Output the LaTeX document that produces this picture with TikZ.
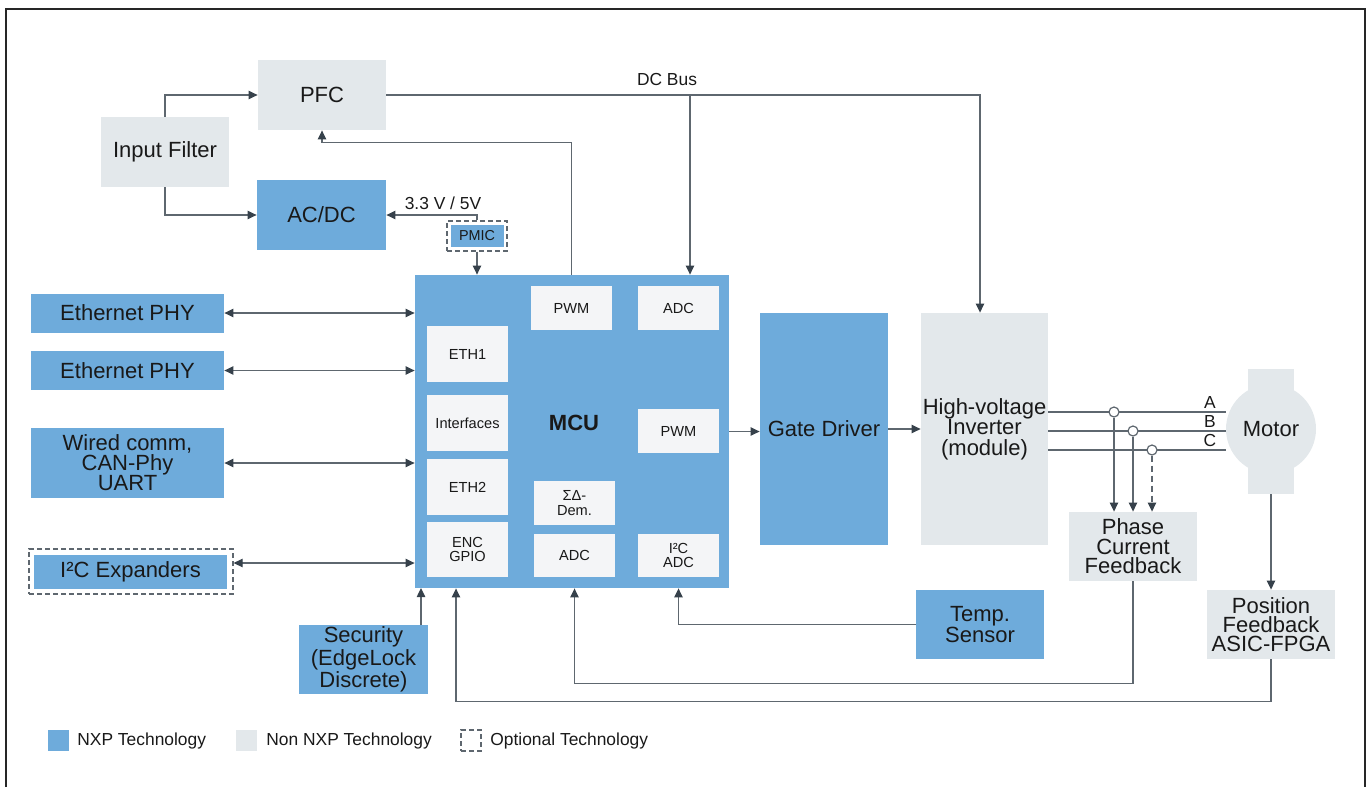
\documentclass[tikz,border=0pt]{standalone}
\usepackage{fontspec}
\setmainfont{Liberation Sans}
\usetikzlibrary{arrows.meta}
\definecolor{nxpblue}{HTML}{6EABDB}
\definecolor{nonnxp}{HTML}{E3E8EB}
\definecolor{subblk}{HTML}{F4F5F7}
\definecolor{wirecol}{HTML}{5E676F}
\definecolor{tipcol}{HTML}{36414B}
\begin{document}
\begin{tikzpicture}[
  x=0.5pt, y=-0.5pt,
  every node/.style={inner sep=0pt, align=center, text=black!90},
  nxp/.style={fill=nxpblue, font=\fontsize{11}{9.8}\selectfont},
  other/.style={fill=nonnxp, font=\fontsize{11}{9.8}\selectfont},
  sub/.style={fill=subblk, minimum width=40.5pt, font=\fontsize{7.3}{6.8}\selectfont},
  optbox/.style={draw=wirecol, dash pattern=on 2.5pt off 1.5pt, line width=0.6pt},
  wire/.style={draw=wirecol, line width=0.6pt},
  arr/.style={wire, -{Triangle[length=4.5pt, width=4.2pt, color=tipcol]}},
  darr/.style={wire, {Triangle[length=4.5pt, width=4.2pt, color=tipcol]}-{Triangle[length=4.5pt, width=4.2pt, color=tipcol]}},
  tap/.style={circle, draw=wirecol, fill=white, line width=0.6pt, minimum size=5pt},
  small/.style={font=\fontsize{8.7}{10}\selectfont}
]
\useasboundingbox (0,0) rectangle (1369,787);
\draw[line width=1pt, draw=black!85] (6,787) -- (6,9) -- (1365,9) -- (1365,787);

% Power stage
\node[other, minimum width=64pt, minimum height=35pt] (pfc) at (322,95) {PFC};
\node[other, minimum width=64pt, minimum height=35pt] (filter) at (165,152) {Input Filter};
\node[nxp, minimum width=64.5pt, minimum height=35pt] (acdc) at (321.5,215) {AC/DC};
\node[optbox, minimum width=30pt, minimum height=15pt] (pmicbox) at (477,236) {};
\node[nxp, minimum width=26.5pt, minimum height=11pt, font=\fontsize{7.2}{8}\selectfont] (pmic) at (477,236) {PMIC};
\node[small] (supply) at (443,203.5) {3.3 V / 5V};
\node[small] (dcbus) at (667,79.5) {DC Bus};

% MCU and its blocks
\node[fill=nxpblue, minimum width=157pt, minimum height=156.5pt] (mcu) at (572,431.5) {};
\node[font=\bfseries\fontsize{11}{12}\selectfont] (mculabel) at (574,423) {MCU};
\node[sub, minimum height=22pt] (pwmtop) at (571.5,308) {PWM};
\node[sub, minimum height=22pt] (adctop) at (678.5,308) {ADC};
\node[sub, minimum height=28pt] (eth1) at (467.5,354) {ETH1};
\node[sub, minimum height=28pt] (ifaces) at (467.5,423) {Interfaces};
\node[sub, minimum height=28pt] (eth2) at (467.5,487) {ETH2};
\node[sub, minimum height=27.5pt] (enc) at (467.5,549.5) {ENC\\GPIO};
\node[sub, minimum height=22pt, font=\fontsize{7.3}{7.6}\selectfont] (sigdel) at (574.5,503) {ΣΔ-\\Dem.};
\node[sub, minimum height=21.5pt] (adcbot) at (574.5,555.5) {ADC};
\node[sub, minimum height=22pt] (pwmright) at (678.5,431) {PWM};
\node[sub, minimum height=21.5pt] (i2cadc) at (678.5,555.5) {I²C\\ADC};

% Comms on the left
\node[nxp, minimum width=96.5pt, minimum height=19.5pt] (phy1) at (127.5,313) {Ethernet PHY};
\node[nxp, minimum width=96.5pt, minimum height=19.5pt] (phy2) at (127.5,370.5) {Ethernet PHY};
\node[nxp, minimum width=96.5pt, minimum height=35pt, font=\fontsize{11}{10}\selectfont] (wired) at (127.5,463) {Wired comm,\\CAN-Phy\\UART};
\node[optbox, minimum width=102pt, minimum height=22.5pt] (i2cbox) at (131,571.5) {};
\node[nxp, minimum width=96.5pt, minimum height=17pt] (i2cexp) at (130.5,572) {I²C Expanders};
\node[nxp, minimum width=64.5pt, minimum height=34.5pt] (security) at (363.5,659.5) {Security\\(EdgeLock\\Discrete)};

% Drive side
\node[nxp, minimum width=64pt, minimum height=116pt] (gate) at (824,429) {Gate Driver};
\node[other, minimum width=63.5pt, minimum height=116pt, font=\fontsize{11}{10.2}\selectfont] (inverter) at (984.5,429) {High-voltage\\Inverter\\(module)};
\node[nxp, minimum width=64pt, minimum height=34.5pt, font=\fontsize{11}{10.5}\selectfont] (temp) at (980,624.5) {Temp.\\Sensor};
\node[other, minimum width=64pt, minimum height=34.5pt] (phasefb) at (1133,546.5) {Phase\\Current\\Feedback};
\node[other, minimum width=64pt, minimum height=34.5pt, font=\fontsize{11}{9.5}\selectfont] (posfb) at (1271,624.5) {Position\\Feedback\\ASIC-FPGA};
\node[fill=nonnxp, minimum width=23pt, minimum height=62.5pt] (motorbody) at (1271,431.5) {};
\node[circle, fill=nonnxp, minimum size=45pt, font=\fontsize{11}{12}\selectfont] (motor) at (1271,429) {Motor};

% Phase lines A B C
\foreach \y/\ph in {412/A,431/B,450/C} {
  \draw[wire] (inverter.east |- 0,\y) -- (motor.west |- 0,\y);
  \node[small] (lbl\ph) at (1210,\y-9) {\ph};
}
\node[tap] (tapA) at (1114,412) {};
\node[tap] (tapB) at (1133,431) {};
\node[tap] (tapC) at (1152,450) {};
\draw[arr] (tapA.south) -- (tapA |- phasefb.north);
\draw[arr] (tapB.south) -- (tapB |- phasefb.north);
\draw[arr, dash pattern=on 3pt off 2pt] (tapC.south) -- (tapC |- phasefb.north);

% Connectors
\draw[arr] (filter.north) |- (pfc.west);
\draw[arr] (filter.south) |- (acdc.west);
\draw[arr] (pmicbox.north) |- (acdc.east);
\draw[arr] (pmicbox.south) -- (pmicbox.south |- mcu.north);
\draw[arr] (mcu.north -| pwmtop) -- ++(0,-132) -| (pfc.south);
\draw[arr] (pfc.east) -| ([xshift=-2.25pt]inverter.north);
\coordinate (busbranch) at (690,95);
\draw[arr] (busbranch) -- (busbranch |- mcu.north);

\draw[darr] (phy1.east) -- (phy1.east -| mcu.west);
\draw[darr] (phy2.east) -- (phy2.east -| mcu.west);
\draw[darr] (wired.east) -- (wired.east -| mcu.west);
\draw[darr] ([yshift=4.25pt]i2cbox.east) -- ([yshift=4.25pt]i2cbox.east -| mcu.west);

\draw[arr] (mcu.east) -- (mcu.east -| gate.west);
\draw[arr] (gate.east) -- (inverter.west);
\draw[arr] (motorbody.south) -- (posfb.north);

\coordinate (secin) at (421,588);
\draw[arr] (security.north -| secin) -- (secin);
\draw[arr] (temp.west) -| (mcu.south -| i2cadc);
\draw[arr] (phasefb.south) -- ++(0,102) -| (mcu.south -| adcbot);
\draw[arr] (posfb.south) -- ++(0,42) -| ([xshift=-5.75pt]mcu.south -| enc);

% Legend
\node[fill=nxpblue, minimum width=10.5pt, minimum height=10.5pt] (keynxp) at (58.5,740.5) {};
\node[small, anchor=west] (keynxptext) at (77,740.5) {NXP Technology};
\node[fill=nonnxp, minimum width=10.5pt, minimum height=10.5pt] (keyother) at (246.5,740.5) {};
\node[small, anchor=west] (keyothertext) at (266,740.5) {Non NXP Technology};
\node[optbox, minimum width=10pt, minimum height=10.5pt] (keyopt) at (471,740.5) {};
\node[small, anchor=west] (keyopttext) at (490,740.5) {Optional Technology};
\end{tikzpicture}
\end{document}
